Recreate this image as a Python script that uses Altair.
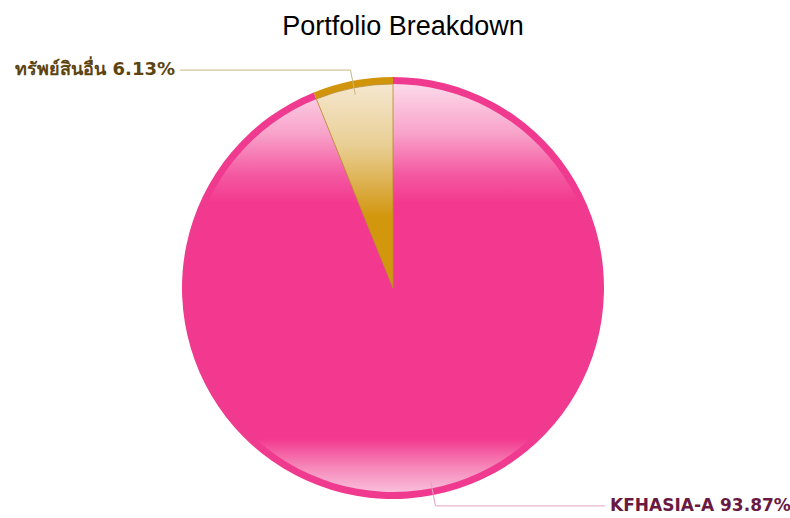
import altair as alt
import pandas as pd

# ---- data ----
chart_title = "Portfolio Breakdown"
assets = ["KFHASIA-A", "ทรัพย์สินอื่น"]
percents = [93.87, 6.13]
slice_order = [0, 1]

total = sum(percents)
df = pd.DataFrame({"asset": assets, "pct": percents, "order": slice_order})

CX, CY = 393, 288
R_OUT, R_IN = 211, 204

base = (
    alt.Chart(df)
    .transform_stack(stack="pct", groupby=[], as_=["t0", "t1"], sort=[alt.SortField("order")])
    .transform_calculate(
        mid=f"(datum.t0 + datum.t1) / 2 / {total} * 2 * PI",
        label="datum.asset + ' ' + format(datum.pct, '.2f') + '%'",
    )
    .transform_calculate(
        sx=f"{CX} + 197 * sin(datum.mid)",
        sy=f"{CY} - 197 * cos(datum.mid)",
        ex=f"{CX} + 222 * sin(datum.mid)",
        ey=f"{CY} - 222 * cos(datum.mid)",
        hx="sin(datum.mid) < 0 ? 180 : 605",
        lx="sin(datum.mid) < 0 ? 175 : 610",
        side="sin(datum.mid) < 0 ? 'left' : 'right'",
    )
)

theta_scale = alt.Scale(domain=[0, total])
pos = dict(
    x=alt.value(CX),
    y=alt.value(CY),
    theta=alt.Theta("t0:Q", scale=theta_scale, stack=False),
    theta2="t1:Q",
)

ring = base.mark_arc(radius=R_OUT).encode(
    color=alt.condition("datum.order == 0", alt.value("#EF3A8F"), alt.value("#D1950B")),
    **pos,
)

pink_grad = alt.Gradient(
    gradient="linear", x1=0, x2=0, y1=0, y2=1,
    stops=[
        alt.GradientStop(color="#FCDAEA", offset=0),
        alt.GradientStop(color="#F8A3CA", offset=0.12),
        alt.GradientStop(color="#F45AA2", offset=0.22),
        alt.GradientStop(color="#F3398F", offset=0.29),
        alt.GradientStop(color="#F3398F", offset=0.87),
        alt.GradientStop(color="#F689BA", offset=0.94),
        alt.GradientStop(color="#F9BEDA", offset=1),
    ],
)
gold_grad = alt.Gradient(
    gradient="linear", x1=0, x2=0, y1=0, y2=1,
    stops=[
        alt.GradientStop(color="#F5E7CF", offset=0),
        alt.GradientStop(color="#E9CF95", offset=0.3),
        alt.GradientStop(color="#DCAE4A", offset=0.5),
        alt.GradientStop(color="#D3970E", offset=0.65),
        alt.GradientStop(color="#D3970E", offset=1),
    ],
)

inner_pink = base.transform_filter("datum.order == 0").mark_arc(
    radius=R_IN, fill=pink_grad, strokeWidth=0
).encode(**pos)
inner_gold = base.transform_filter("datum.order == 1").mark_arc(
    radius=R_IN, fill=gold_grad, stroke="#B8892E", strokeWidth=0.8
).encode(**pos)

line_color = alt.condition("datum.order == 0", alt.value("#E2A3C3"), alt.value("#C9B585"))
leader1 = base.mark_rule(strokeWidth=1).encode(
    x=alt.X("sx:Q", scale=None), y=alt.Y("sy:Q", scale=None),
    x2="ex:Q", y2="ey:Q", color=line_color,
)
leader2 = base.mark_rule(strokeWidth=1).encode(
    x=alt.X("ex:Q", scale=None), y=alt.Y("ey:Q", scale=None),
    x2="hx:Q", y2="ey:Q", color=line_color,
)

text_color = alt.condition("datum.order == 0", alt.value("#6A1A42"), alt.value("#5C4410"))
label_left = base.transform_filter("datum.side == 'left'").mark_text(
    align="right", baseline="middle", font="DejaVu Sans", fontWeight="bold", fontSize=18
).encode(x=alt.X("lx:Q", scale=None), y=alt.Y("ey:Q", scale=None), text="label:N", color=text_color)
label_right = base.transform_filter("datum.side == 'right'").mark_text(
    align="left", baseline="middle", font="DejaVu Sans", fontWeight="bold", fontSize=17
).encode(x=alt.X("lx:Q", scale=None), y=alt.Y("ey:Q", scale=None), text="label:N", color=text_color)

title = alt.Chart(pd.DataFrame({"t": [chart_title]})).mark_text(
    align="center", baseline="alphabetic", font="Liberation Sans", fontSize=27, color="#000000"
).encode(x=alt.value(403), y=alt.value(35), text="t:N")

chart = alt.layer(
    ring, inner_pink, inner_gold, leader1, leader2, label_left, label_right, title
).properties(
    width=790, height=518, padding=0,
    autosize=alt.AutoSizeParams(type="none"),
).configure_view(stroke=None)

chart.save("out.html", embed_options={"renderer": "svg", "actions": False})
